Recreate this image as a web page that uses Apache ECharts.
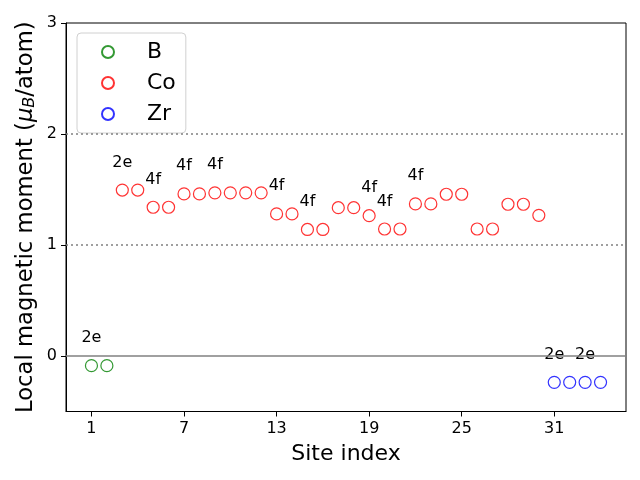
<!DOCTYPE html>
<html><head><meta charset="utf-8">
<script src="https://cdn.jsdelivr.net/npm/echarts@6/dist/echarts.min.js"></script>
<style>html,body{margin:0;padding:0;background:#fff}#c{width:640px;height:480px}</style>
</head><body><div id="c"></div>
<script>
const bSites = [1, 2];
const bValues = [-0.087, -0.087];
const coSites = [3,4,5,6,7,8,9,10,11,12,13,14,15,16,17,18,19,20,21,22,23,24,25,26,27,28,29,30];
const coValues = [1.495,1.495,1.34,1.34,1.46,1.46,1.47,1.47,1.47,1.47,1.28,1.28,1.14,1.14,1.336,1.336,1.264,1.144,1.144,1.37,1.37,1.457,1.457,1.144,1.144,1.367,1.367,1.267];
const zrSites = [31, 32, 33, 34];
const zrValues = [-0.237, -0.237, -0.237, -0.237];
const labelSites = [1, 3, 5, 7, 9, 13, 15, 19, 20, 22, 31, 33];
const labelTexts = ['2e', '2e', '4f', '4f', '4f', '4f', '4f', '4f', '4f', '4f', '2e', '2e'];
const xTicks = [1, 7, 13, 19, 25, 31];
const yTicks = [0, 1, 2, 3];

const FONT = 'DejaVu Sans';
function build(sites, vals) {
  return sites.map((s, i) => {
    const k = labelSites.indexOf(s);
    const item = { value: [s, vals[i]] };
    if (k >= 0) {
      item.label = { show: true, formatter: labelTexts[k], position: 'top', distance: 13,
        color: '#000', opacity: 1, fontSize: 16, fontFamily: FONT };
    }
    return item;
  });
}
function series(name, color, sites, vals, extra) {
  return Object.assign({
    name, type: 'scatter', symbol: 'circle', symbolSize: 12,
    itemStyle: { color: 'rgba(0,0,0,0)', borderColor: color, borderWidth: 1.2 },
    emphasis: { disabled: true },
    data: build(sites, vals), z: 3
  }, extra || {});
}
const chart = echarts.init(document.getElementById('c'), null, { renderer: 'canvas' });
chart.setOption({
  animation: false,
  backgroundColor: '#fff',
  grid: { left: 66, right: 14, top: 23, bottom: 68.5, show: true, borderColor: '#000', borderWidth: 1, backgroundColor: 'transparent' },
  legend: {
    left: 77, top: 33, orient: 'vertical', itemGap: 9, itemWidth: 30, itemHeight: 12,
    padding: [8, 10, 8, 24],
    backgroundColor: '#fff', borderColor: '#d0d0d0', borderWidth: 1, borderRadius: 4,
    textStyle: { fontSize: 22, fontFamily: FONT, color: '#000', padding: [0, 0, 0, 19] },
    data: ['B', 'Co', 'Zr']
  },
  xAxis: {
    type: 'value', min: -0.65, max: 35.65,
    name: 'Site index', nameLocation: 'middle', nameGap: 32, nameMoveOverlap: false,
    nameTextStyle: { fontSize: 22, fontFamily: FONT, color: '#000' },
    axisLine: { show: true, onZero: false, lineStyle: { color: '#000', width: 1 } },
    axisTick: { show: true, inside: false, length: 5, customValues: xTicks, lineStyle: { color: '#000' } },
    axisLabel: { customValues: xTicks, fontSize: 16, fontFamily: FONT, color: '#000', margin: 9 },
    splitLine: { show: false }
  },
  yAxis: {
    type: 'value', min: -0.5, max: 3,
    name: 'Local magnetic moment ({mu|μ}{sub|B}/atom)', nameLocation: 'middle', nameGap: 28,
    nameMoveOverlap: false,
    nameRotate: 90,
    nameTextStyle: { fontSize: 22.7, fontFamily: FONT, color: '#000',
      rich: {
        mu: { fontSize: 22.7, fontFamily: FONT, fontStyle: 'italic', color: '#000' },
        sub: { fontSize: 16, fontFamily: FONT, fontStyle: 'italic', color: '#000', verticalAlign: 'bottom', padding: [8, 0, 0, 0] }
      } },
    axisLine: { show: true, onZero: false, lineStyle: { color: '#000', width: 1 } },
    axisTick: { show: true, inside: false, length: 5, customValues: yTicks, lineStyle: { color: '#000' } },
    axisLabel: { customValues: yTicks, fontSize: 16, fontFamily: FONT, color: '#000', margin: 9 },
    splitLine: { show: false }
  },
  series: [
    series('B', '#008000', bSites, bValues, {
      markLine: {
        silent: true, symbol: 'none', label: { show: false },
        data: [
          { yAxis: 0, lineStyle: { color: '#808080', type: 'solid', width: 1.5 } },
          { yAxis: 1, lineStyle: { color: '#808080', type: [2, 3], width: 1.5 } },
          { yAxis: 2, lineStyle: { color: '#808080', type: [2, 3], width: 1.5 } }
        ]
      }
    }),
    series('Co', '#ff0000', coSites, coValues),
    series('Zr', '#0000ff', zrSites, zrValues)
  ]
});
</script></body></html>
